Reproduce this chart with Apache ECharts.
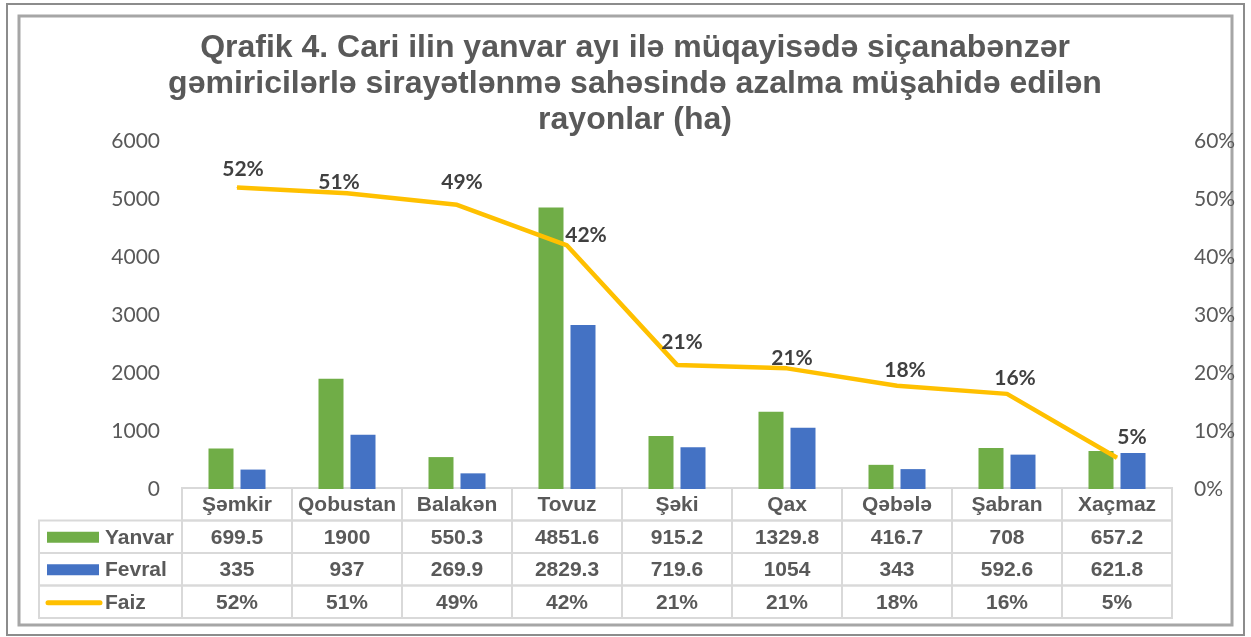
<!DOCTYPE html>
<html>
<head>
<meta charset="utf-8">
<title>Qrafik 4</title>
<script src="https://cdn.jsdelivr.net/npm/echarts@6/dist/echarts.min.js"></script>
<style>
  html, body { margin: 0; padding: 0; background: #ffffff; }
  #chart { width: 1251px; height: 637px; }
</style>
</head>
<body>
<div id="chart"></div>
<script>
// rayonlar
var categories = ["Şəmkir", "Qobustan", "Balakən", "Tovuz", "Şəki", "Qax", "Qəbələ", "Şabran", "Xaçmaz"];
// sahə, ha
var yanvar = [699.5, 1900, 550.3, 4851.6, 915.2, 1329.8, 416.7, 708, 657.2];
var fevral = [335, 937, 269.9, 2829.3, 719.6, 1054, 343, 592.6, 621.8];
// azalma faizi
var faiz = [0.52, 0.51, 0.49, 0.42, 0.214, 0.208, 0.178, 0.164, 0.054];
var leftTicks = [0, 1000, 2000, 3000, 4000, 5000, 6000];
var rightTicks = ["0%", "10%", "20%", "30%", "40%", "50%", "60%"];
var rowNames = ["", "Yanvar", "Fevral", "Faiz"];

// where each % label sits relative to its point (px)
var labelShift = [[6, -18], [-8, -11], [5, -23], [19, -10], [5, -23], [5, -10], [8, -16], [8, -16], [15, -20]];

var GREEN = "#70ad47", BLUE = "#4472c4", GOLD = "#ffc000";
var TXT = "#595959", DARK = "#404040", CELL = "#d9d9d9";

function pct(v) { return Math.round(v * 100) + "%"; }

function cellText(c, r) {
  if (r === 0) return categories[c];
  if (r === 1) return String(yanvar[c]);
  if (r === 2) return String(fevral[c]);
  return pct(faiz[c]);
}

// table cells: [column, row, kind]  kind 0 = value cell, 1 = legend cell
var tableData = [];
for (var r = 0; r < 4; r++) {
  for (var c = 0; c < categories.length; c++) tableData.push([c, r, 0]);
  if (r > 0) tableData.push([0, r, 1]);
}

var chart = echarts.init(document.getElementById("chart"));

var tableFont = "bold 21px 'Liberation Sans', Arial, sans-serif";

function renderCell(params, api) {
  var c = api.value(0), r = api.value(1), kind = api.value(2);
  var p = api.coord([c, r]);
  var s = api.size([1, 1]);
  var w = s[0], h = s[1];
  if (kind === 0) {
    return {
      type: "group",
      children: [
        { type: "rect", shape: { x: p[0] - w / 2, y: p[1] - h / 2, width: w, height: h },
          style: { fill: "none", stroke: CELL, lineWidth: 2 } },
        { type: "text", style: { x: p[0], y: p[1] + 1, text: cellText(c, r), font: tableFont,
          fill: TXT, align: "center", verticalAlign: "middle" } }
      ]
    };
  }
  // legend cell left of the first column
  var lw = 143;
  var x0 = p[0] - w / 2 - lw;
  var key;
  if (r === 3) {
    key = { type: "line", shape: { x1: x0 + 9, y1: p[1] + 1, x2: x0 + 61, y2: p[1] + 1 },
      style: { stroke: GOLD, lineWidth: 5, lineCap: "round" } };
  } else {
    key = { type: "rect", shape: { x: x0 + 8, y: p[1] - 5, width: 52, height: 11 },
      style: { fill: r === 1 ? GREEN : BLUE } };
  }
  return {
    type: "group",
    children: [
      { type: "rect", shape: { x: x0, y: p[1] - h / 2, width: lw, height: h },
        style: { fill: "none", stroke: CELL, lineWidth: 2 } },
      key,
      { type: "text", style: { x: x0 + 66, y: p[1] + 1, text: rowNames[r], font: tableFont,
        fill: TXT, align: "left", verticalAlign: "middle" } }
    ]
  };
}

var lineData = faiz.map(function (v, i) {
  return { value: v, label: { offset: labelShift[i] } };
});

var option = {
  backgroundColor: "#ffffff",
  animation: false,
  title: {
    text: "Qrafik 4. Cari ilin yanvar ayı ilə müqayisədə siçanabənzər\ngəmiricilərlə sirayətlənmə sahəsində azalma müşahidə edilən\nrayonlar (ha)",
    left: 630,
    top: 25,
    textAlign: "center",
    textStyle: {
      fontFamily: "'Liberation Sans', Arial, sans-serif",
      fontSize: 32,
      fontWeight: "bold",
      color: TXT,
      lineHeight: 36
    }
  },
  graphic: [
    { type: "rect", shape: { x: 7, y: 4, width: 1237, height: 631 },
      style: { fill: "none", stroke: "#8c8c8c", lineWidth: 2 }, silent: true },
    { type: "rect", shape: { x: 19, y: 16, width: 1213, height: 609 },
      style: { fill: "none", stroke: "#a6a6a6", lineWidth: 3 }, silent: true }
  ],
  grid: [
    { left: 182, right: 79, top: 141, bottom: 148 },
    { left: 182, right: 79, top: 488, height: 130 }
  ],
  xAxis: [
    { type: "category", gridIndex: 0, data: categories,
      axisLine: { show: false }, axisTick: { show: false }, axisLabel: { show: false } },
    { type: "category", gridIndex: 1, data: categories,
      axisLine: { show: false }, axisTick: { show: false }, axisLabel: { show: false } }
  ],
  yAxis: [
    { type: "value", gridIndex: 0, min: leftTicks[0], max: leftTicks[leftTicks.length - 1], interval: 1000,
      splitLine: { show: false }, axisLine: { show: false }, axisTick: { show: false },
      axisLabel: { margin: 22, color: TXT, fontSize: 21, fontFamily: "Lato, 'Open Sans', sans-serif",
        formatter: function (v) { return String(v); } } },
    { type: "value", gridIndex: 0, position: "right", min: 0, max: 0.6, interval: 0.1,
      splitLine: { show: false }, axisLine: { show: false }, axisTick: { show: false },
      axisLabel: { margin: 22, color: TXT, fontSize: 21, fontFamily: "Lato, 'Open Sans', sans-serif",
        formatter: function (v) { return rightTicks[Math.round(v * 10)]; } } },
    { type: "category", gridIndex: 1, data: rowNames, inverse: true,
      axisLine: { show: false }, axisTick: { show: false }, axisLabel: { show: false } }
  ],
  series: [
    { name: "Yanvar", type: "bar", xAxisIndex: 0, yAxisIndex: 0, data: yanvar,
      barWidth: 25, barGap: "28%", itemStyle: { color: GREEN } },
    { name: "Fevral", type: "bar", xAxisIndex: 0, yAxisIndex: 0, data: fevral,
      barWidth: 25, barGap: "28%", itemStyle: { color: BLUE } },
    { name: "Faiz", type: "line", xAxisIndex: 0, yAxisIndex: 1, data: lineData,
      symbol: "circle", symbolSize: 1, showSymbol: true,
      lineStyle: { color: GOLD, width: 4.5 }, itemStyle: { color: GOLD },
      z: 5,
      label: { show: true, position: "inside", align: "center", verticalAlign: "middle",
        color: DARK, fontSize: 21, fontWeight: "bold",
        fontFamily: "Lato, 'Open Sans', sans-serif",
        formatter: function (p) { return pct(faiz[p.dataIndex]); } } },
    { name: "table", type: "custom", xAxisIndex: 1, yAxisIndex: 2, data: tableData,
      renderItem: renderCell, clip: false, silent: true }
  ]
};

chart.setOption(option);
</script>
</body>
</html>
